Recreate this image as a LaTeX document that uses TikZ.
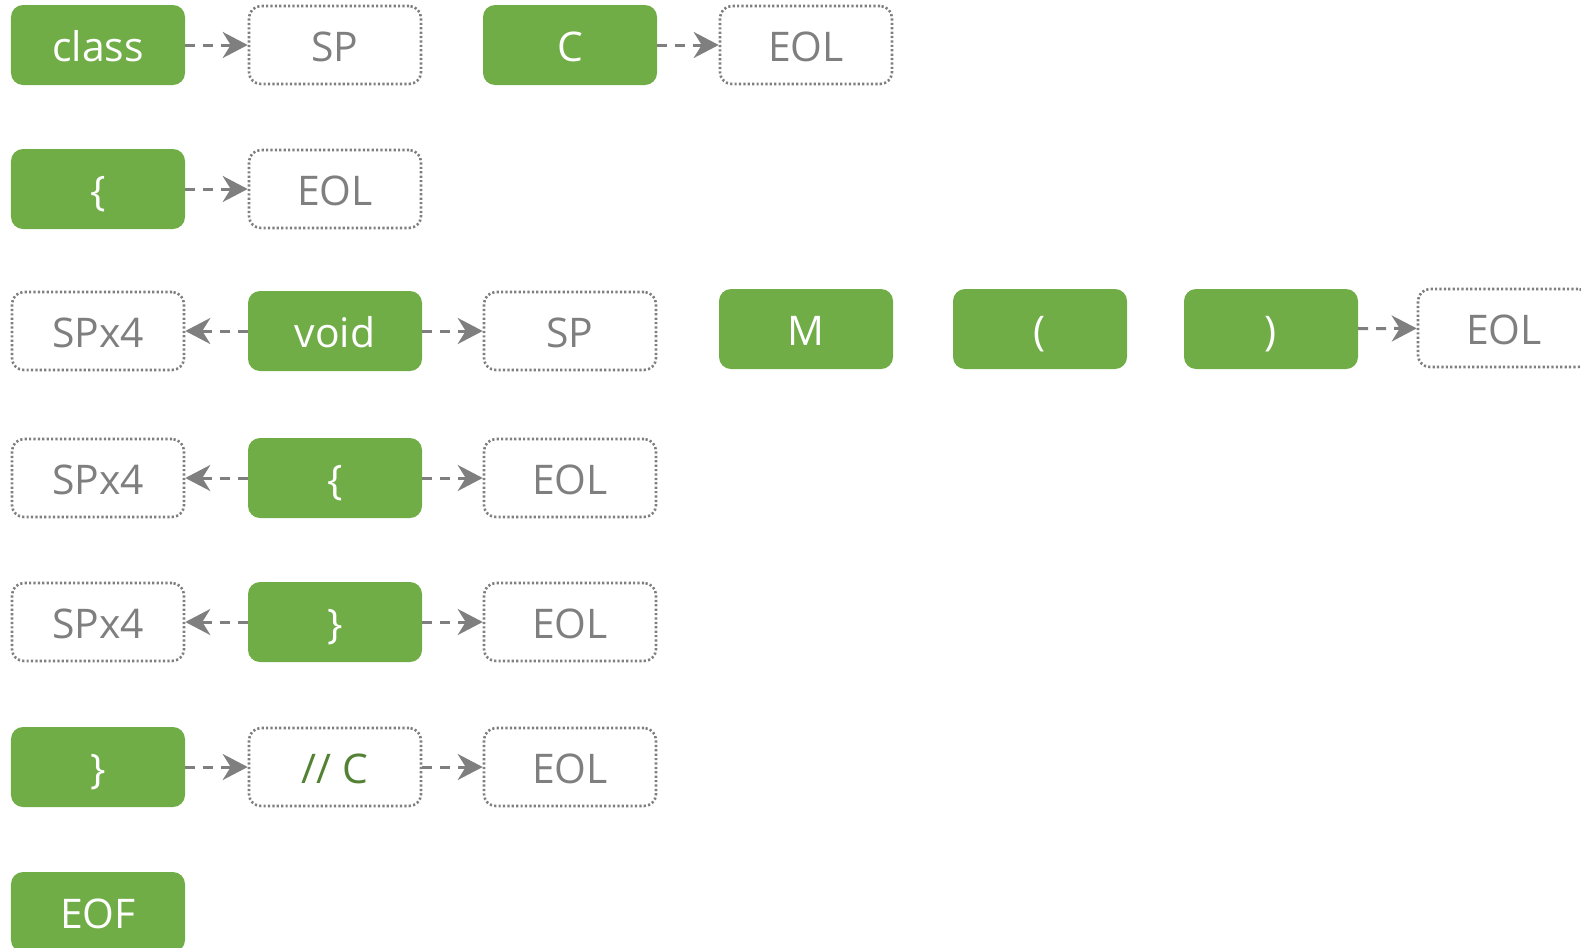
\documentclass[tikz,border=0pt]{standalone}
\usepackage{fontspec}
\setmainfont{Open Sans}
\usetikzlibrary{arrows.meta}
\definecolor{tokgreen}{HTML}{70AD47}
\definecolor{tokgray}{HTML}{7F7F7F}
\definecolor{cmtgreen}{HTML}{548235}

\tikzset{
  label font/.style={font=\fontsize{41}{48}\selectfont, text height=33bp, text depth=0pt, inner sep=0pt},
  tok/.style={label font, fill=tokgreen, text=white, rounded corners=12bp,
    minimum width=174bp, minimum height=80bp},
  ws/.style={label font, draw=tokgray, line width=2.6bp, dash pattern=on 2.2bp off 2.2bp,
    rounded corners=12bp, fill=white, text=tokgray,
    minimum width=172bp, minimum height=78bp},
  link/.style={draw=tokgray, line width=3bp, dash pattern=on 10bp off 8bp,
    -{Stealth[length=25bp,width=26bp,inset=8bp]}}
}

\begin{document}
\begin{tikzpicture}[x=1bp,y=-1bp]
  \useasboundingbox (0,0) rectangle (1581,947);
  \clip (0,0) rectangle (1581,947);

  % line 1: class C
  \node[tok] (class) at (98,45) {class};
  \node[ws]  (sp1)   at (335,45) {SP};
  \node[tok] (cname) at (570,45) {C};
  \node[ws]  (eol1)  at (806,45) {EOL};

  % line 2: {
  \node[tok] (ob1)  at (98,189) {\{};
  \node[ws]  (eol2) at (335,189) {EOL};

  % line 3: void M()
  \node[ws]  (ind3)  at (98,331) {SPx4};
  \node[tok] (void)  at (335,331) {void};
  \node[ws]  (sp3)   at (570,331) {SP};
  \node[tok] (mname) at (806,329) {M};
  \node[tok] (lpar)  at (1040,329) {(};
  \node[tok] (rpar)  at (1271,329) {)};
  \node[ws]  (eol3)  at (1504,328) {EOL};

  % line 4: {
  \node[ws]  (ind4) at (98,478) {SPx4};
  \node[tok] (ob2)  at (335,478) {\{};
  \node[ws]  (eol4) at (570,478) {EOL};

  % line 5: }
  \node[ws]  (ind5) at (98,622) {SPx4};
  \node[tok] (cb2)  at (335,622) {\}};
  \node[ws]  (eol5) at (570,622) {EOL};

  % line 6: } // C
  \node[tok] (cb1)  at (98,767) {\}};
  \node[ws, text=cmtgreen] (cmt) at (335,767) {// C};
  \node[ws]  (eol6) at (570,767) {EOL};

  % end of file
  \node[tok] (eof) at (98,912) {EOF};

  % trivia links
  \draw[link] (class) -- (sp1);
  \draw[link] (cname) -- (eol1);
  \draw[link] (ob1) -- (eol2);
  \draw[link] (void) -- (ind3);
  \draw[link] (void) -- (sp3);
  \draw[link] (rpar) -- (eol3);
  \draw[link] (ob2) -- (ind4);
  \draw[link] (ob2) -- (eol4);
  \draw[link] (cb2) -- (ind5);
  \draw[link] (cb2) -- (eol5);
  \draw[link] (cb1) -- (cmt);
  \draw[link] (cmt) -- (eol6);
\end{tikzpicture}
\end{document}
